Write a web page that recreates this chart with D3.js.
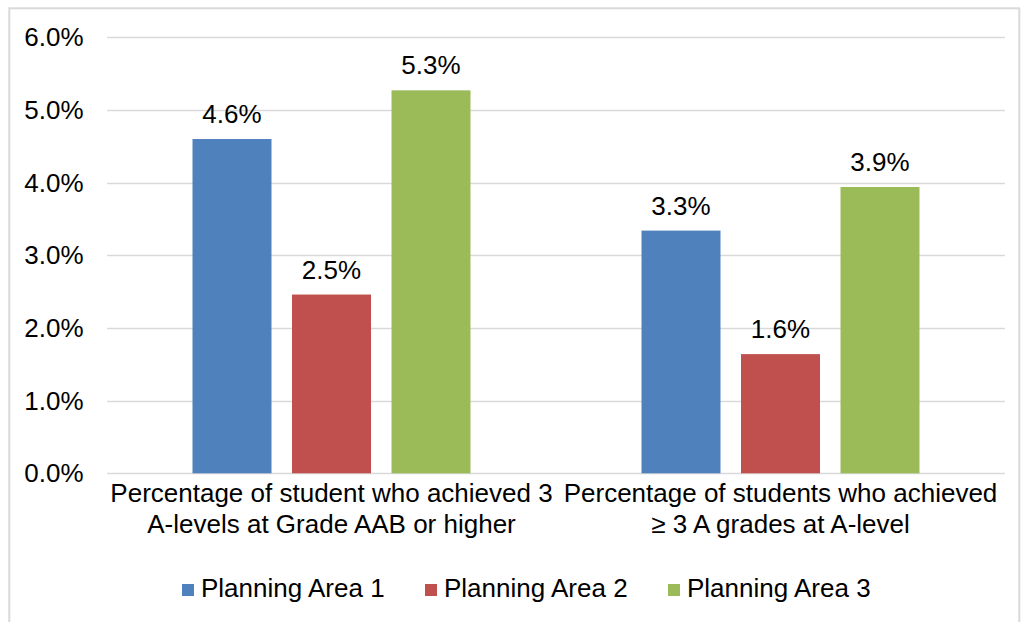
<!DOCTYPE html>
<html>
<head>
<meta charset="utf-8">
<script src="https://cdn.jsdelivr.net/npm/d3@7"></script>
<style>
  html, body { margin: 0; padding: 0; background: #fff; }
  svg { display: block; }
  text { font-family: "Liberation Sans", Arial, sans-serif; fill: #000; }
</style>
</head>
<body>
<svg id="chart" width="1021" height="622"></svg>
<script>
// ---- data ----
const categories = [
  ["Percentage of student who achieved 3", "A-levels at Grade AAB or higher"],
  ["Percentage of students who achieved", "\u2265 3 A grades at A-level"]
];
const seriesNames = ["Planning Area 1", "Planning Area 2", "Planning Area 3"];
const seriesColors = ["#4F81BD", "#C0504D", "#9BBB59"];
const area1 = [0.0460, 0.0334];
const area2 = [0.0246, 0.0164];
const area3 = [0.0527, 0.0394];
const yTicks = [0, 0.01, 0.02, 0.03, 0.04, 0.05, 0.06];

const seriesValues = [area1, area2, area3];

// ---- layout ----
const svg = d3.select("#chart");
const plot = { left: 107, right: 1005, top: 37.3, bottom: 473.3 };
const fontSize = 26;

// chart border
svg.append("rect")
  .attr("x", 9.3).attr("y", 8.3)
  .attr("width", 1010).attr("height", 640)
  .attr("fill", "none").attr("stroke", "#D9D9D9").attr("stroke-width", 2);

const y = d3.scaleLinear().domain([0, 0.06]).range([plot.bottom, plot.top]);
const x0 = d3.scaleBand().domain(d3.range(categories.length)).range([plot.left, plot.right]).paddingInner(0).paddingOuter(0);

const bandW = x0.bandwidth();
const barW = 79;
const barGap = 20.5;
const groupW = seriesNames.length * barW + (seriesNames.length - 1) * barGap;
const x1 = d3.scaleBand().domain(d3.range(seriesNames.length))
  .range([0, groupW]).paddingInner(barGap / (barW + barGap)).paddingOuter(0);

// gridlines
const grid = svg.append("g");
grid.selectAll("line").data(yTicks).join("line")
  .attr("x1", plot.left).attr("x2", plot.right)
  .attr("y1", d => Math.round(y(d)) + 0.5).attr("y2", d => Math.round(y(d)) + 0.5)
  .attr("stroke", "#D9D9D9").attr("stroke-width", 1.3);

// y axis labels
const yAxis = d3.axisLeft(y).tickValues(yTicks).tickFormat(d3.format(".1%")).tickSize(0).tickPadding(0);
const ya = svg.append("g").attr("transform", `translate(83.5,0)`).call(yAxis);
ya.select(".domain").remove();
ya.selectAll("text")
  .attr("font-size", fontSize)
  .attr("font-family", '"Liberation Sans", Arial, sans-serif')
  .attr("fill", "#000")
  .attr("dy", "0.33em");

// bars
const groups = svg.append("g").selectAll("g").data(categories).join("g")
  .attr("transform", (d, i) => `translate(${x0(i) + (bandW - groupW) / 2},0)`);

groups.each(function(cat, ci) {
  const g = d3.select(this);
  seriesValues.forEach((vals, si) => {
    const v = vals[ci];
    g.append("rect")
      .attr("x", x1(si)).attr("width", x1.bandwidth())
      .attr("y", y(v)).attr("height", y(0) - y(v))
      .attr("fill", seriesColors[si]);
    g.append("text")
      .attr("x", x1(si) + x1.bandwidth() / 2)
      .attr("y", y(v) - 16)
      .attr("text-anchor", "middle")
      .attr("font-size", fontSize)
      .text(d3.format(".1%")(v));
  });
});

// category labels
const catG = svg.append("g");
categories.forEach((lines, ci) => {
  const cx = x0(ci) + bandW / 2;
  lines.forEach((ln, li) => {
    catG.append("text")
      .attr("x", cx).attr("y", 502 + li * 30.5)
      .attr("text-anchor", "middle")
      .attr("font-size", fontSize)
      .text(ln);
  });
});

// legend
const legendX = [182, 425, 668];
const leg = svg.append("g");
seriesNames.forEach((name, i) => {
  leg.append("rect")
    .attr("x", legendX[i]).attr("y", 584)
    .attr("width", 12).attr("height", 12)
    .attr("fill", seriesColors[i]);
  leg.append("text")
    .attr("x", legendX[i] + 19).attr("y", 597)
    .attr("font-size", fontSize)
    .text(name);
});
</script>
</body>
</html>
